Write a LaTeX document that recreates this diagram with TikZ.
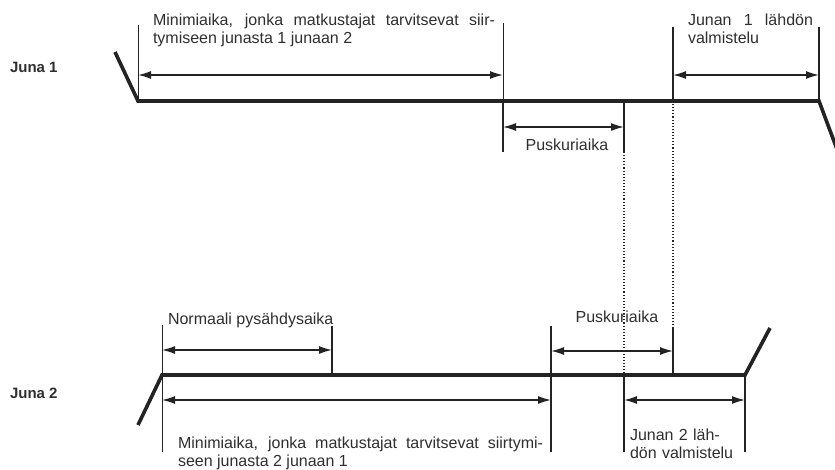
\documentclass[tikz,border=0pt]{standalone}
\usepackage{fontspec}
\setmainfont{Liberation Sans}
\usetikzlibrary{arrows.meta}
\definecolor{ink}{HTML}{232323}
\definecolor{txt}{HTML}{2E2E2E}
\begin{document}
\begin{tikzpicture}[x=1pt,y=-1pt,
  track/.style={draw=ink,line width=3.6pt,line join=miter,line cap=butt},
  tick/.style={draw=ink,line width=1.3pt},
  thintick/.style={draw=ink,line width=0.9pt},
  guide/.style={draw=ink,line width=1.1pt,dotted},
  span/.style={draw=ink,line width=1.4pt,{Latex[length=13pt,width=8pt]}-{Latex[length=13pt,width=8pt]}},
  lbl/.style={inner sep=0pt,outer sep=0pt,text=txt,font=\fontsize{16}{18}\selectfont},
  trainlbl/.style={inner sep=0pt,outer sep=0pt,text=txt,anchor=base west,font=\fontsize{15}{18}\selectfont\bfseries}]
\useasboundingbox (0,0) rectangle (835,470);

% ---------- Juna 1 ----------
\coordinate (t1a) at (115,52);
\coordinate (t1b) at (138,101);
\coordinate (t1c) at (819,101);
\coordinate (t1d) at (838,152);
\draw[track] (t1a) -- (t1b) -- (t1c) -- (t1d);

% vertical markers
\coordinate (m1top) at (138,25);
\coordinate (m2top) at (503,23);
\coordinate (m2bot) at (503,152);
\coordinate (m2mid) at (503,101);
\coordinate (m3mid) at (624,101);
\coordinate (m3bot) at (624,152);
\coordinate (m4top) at (673,27);
\coordinate (m4mid) at (673,101);
\coordinate (m5top) at (819,27);
\draw[thintick] (m1top) -- (t1b);
\draw[thintick] (m2top) -- (m2mid);
\draw[tick] (m2mid) -- (m2bot);
\draw[tick] (m3mid) -- (m3bot);
\draw[tick] (m4top) -- (m4mid);
\draw[tick] (m5top) -- (t1c);

% spans
\coordinate (s1l) at (138,75);  \coordinate (s1r) at (503,75);
\coordinate (s2l) at (503,127); \coordinate (s2r) at (624,127);
\coordinate (s3l) at (673,75);  \coordinate (s3r) at (819,75);
\draw[span] (s1l) -- (s1r);
\draw[span] (s2l) -- (s2r);
\draw[span] (s3l) -- (s3r);

\node[trainlbl] (juna1) at (10,73) {Juna 1};
\node[lbl,anchor=base west,text width=342pt,align=justify] (min1) at (153,26)
  {Minimiaika, jonka matkustajat tarvitsevat siir-\linebreak tymiseen junasta 1 junaan 2};
\node[lbl,anchor=base] (pus1) at (567,151) {Puskuriaika};
\node[lbl,anchor=base west,text width=125pt,align=justify] (lah1) at (688,26)
  {Junan 1 lähdön\linebreak valmistelu};

% ---------- Juna 2 ----------
\coordinate (t2a) at (138,425);
\coordinate (t2b) at (162,375);
\coordinate (t2c) at (745,375);
\coordinate (t2d) at (770,328);
\draw[track] (t2a) -- (t2b) -- (t2c) -- (t2d);

% dotted guides between the trains
\coordinate (g1b) at (624,375);
\coordinate (g2b) at (673,327);
\draw[guide] (m3bot) -- (g1b);
\draw[guide] (m4mid) -- (g2b);

% vertical markers
\coordinate (n1top) at (162,325); \coordinate (n1bot) at (162,452);
\coordinate (n2top) at (332,326); \coordinate (n2bot) at (332,375);
\coordinate (n3top) at (551,326); \coordinate (n3bot) at (551,452);
\coordinate (n4bot) at (624,452);
\coordinate (n5bot) at (673,375);
\coordinate (n6bot) at (745,452);
\draw[thintick] (n1top) -- (n1bot);
\draw[tick] (n2top) -- (n2bot);
\draw[tick] (n3top) -- (n3bot);
\draw[tick] (g1b) -- (n4bot);
\draw[tick] (g2b) -- (n5bot);
\draw[tick] (t2c) -- (n6bot);

% spans
\coordinate (r1l) at (162,350); \coordinate (r1r) at (332,350);
\coordinate (r2l) at (551,351); \coordinate (r2r) at (673,351);
\coordinate (r3l) at (162,400); \coordinate (r3r) at (551,400);
\coordinate (r4l) at (624,400); \coordinate (r4r) at (745,400);
\draw[span] (r1l) -- (r1r);
\draw[span] (r2l) -- (r2r);
\draw[span] (r3l) -- (r3r);
\draw[span] (r4l) -- (r4r);

\node[trainlbl] (juna2) at (10,398) {Juna 2};
\node[lbl,anchor=base west] (norm) at (168,324) {Normaali pysähdysaika};
\node[lbl,anchor=base] (pus2) at (617,323) {Puskuriaika};
\node[lbl,anchor=base west,text width=365pt,align=justify] (min2) at (178,448)
  {Minimiaika, jonka matkustajat tarvitsevat siirtymi-\linebreak seen junasta 2 junaan 1};
\node[lbl,anchor=base west,text width=120pt,align=left] (lah2) at (630,440)
  {Junan 2 läh-\\dön valmistelu};
\end{tikzpicture}
\end{document}
